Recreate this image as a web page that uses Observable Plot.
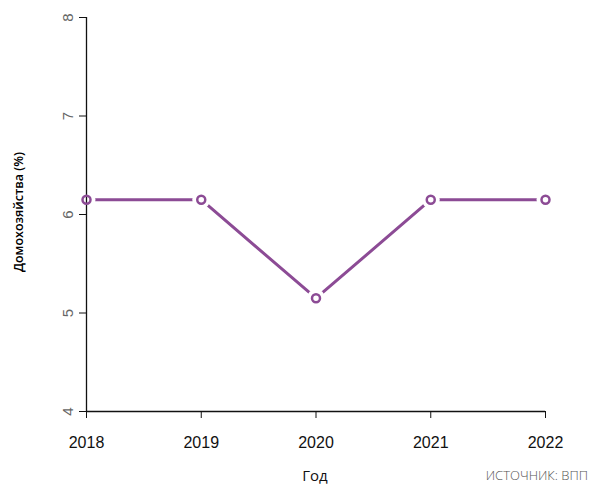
<!DOCTYPE html>
<html><head><meta charset="utf-8">
<script src="https://cdn.jsdelivr.net/npm/d3@7"></script>
<script src="https://cdn.jsdelivr.net/npm/@observablehq/plot@0.6"></script>
<style>
body{margin:0;background:#fff;font-family:"Liberation Sans",Arial,sans-serif;}
#wrap{position:relative;width:590px;height:488px;}
.lab{position:absolute;white-space:nowrap;}
</style></head>
<body><div id="wrap"></div>
<script>
const years = [2018, 2019, 2020, 2021, 2022];
const values = [6.15, 6.15, 5.15, 6.15, 6.15];
const yTicks = [4, 5, 6, 7, 8];
const xLabel = "Год";
const yLabel = "Домохозяйства (%)";
const source = "ИСТОЧНИК: ВПП";

const data = years.map((y, i) => ({year: y, value: values[i]}));
const purple = "#8c4b95";

const chart = Plot.plot({
  width: 590, height: 488,
  marginLeft: 86, marginRight: 45, marginTop: 17, marginBottom: 77,
  style: {fontFamily: "Liberation Sans, Arial, sans-serif", background: "white"},
  x: {domain: [2018, 2022]},
  y: {domain: [4, 8]},
  marks: [
    Plot.line(data, {x: "year", y: "value", stroke: purple, strokeWidth: 3}),
    Plot.dot(data, {x: "year", y: "value", r: 9, fill: "white", stroke: "none"}),
    Plot.ruleX([years[0]], {y1: yTicks[0], y2: yTicks[yTicks.length - 1], stroke: "#111", strokeWidth: 1.3}),
    Plot.ruleY([yTicks[0]], {x1: years[0], x2: years[years.length - 1], stroke: "#111", strokeWidth: 1.3}),
    Plot.axisX({ticks: years, tickFormat: d => String(d), tickSize: 7, tickPadding: 18, fontSize: 16, color: "#111", label: null}),
    Plot.axisY({ticks: yTicks, tickFormat: d => String(d), tickSize: 7, tickPadding: 7, tickRotate: -90, fontSize: 15, color: "#666", label: null}),
    Plot.dot(data, {x: "year", y: "value", r: 4, fill: "none", stroke: purple, strokeWidth: 2.5})
  ]
});
const wrap = document.getElementById("wrap");
wrap.appendChild(chart);
chart.style.position = "absolute"; chart.style.left = "0"; chart.style.top = "0";
chart.querySelectorAll("[aria-label='x-axis tick'], [aria-label='y-axis tick']").forEach(g => g.setAttribute("stroke", "#111"));
chart.querySelectorAll("[aria-label='x-axis tick label'] text").forEach(t => { t.style.fontSize = "16px"; t.style.fontFamily = "'Liberation Sans', Arial, sans-serif"; t.setAttribute("fill", "#111"); });
chart.querySelectorAll("[aria-label='y-axis tick label'] text").forEach(t => { t.style.fontSize = "15px"; t.style.fontFamily = "'Liberation Sans', Arial, sans-serif"; t.setAttribute("fill", "#666"); });

const yl = document.createElement("div");
yl.className = "lab";
yl.textContent = yLabel;
yl.style.cssText += "left:18px;top:212px;font-size:12.5px;font-weight:600;color:#000;transform:translate(-50%,-50%) rotate(-90deg);font-family:'Open Sans',sans-serif;";
wrap.appendChild(yl);

const xl = document.createElement("div");
xl.className = "lab";
xl.textContent = xLabel;
xl.style.cssText += "left:315px;top:475px;font-size:15px;color:#111;transform:translate(-50%,-50%);font-family:'Open Sans',sans-serif;";
wrap.appendChild(xl);

const src = document.createElement("div");
src.className = "lab";
src.textContent = source;
src.style.cssText += "right:2px;top:475px;font-size:13px;color:#555;transform:translateY(-50%);font-family:'Open Sans',sans-serif;font-weight:300;";
wrap.appendChild(src);
</script></body></html>
